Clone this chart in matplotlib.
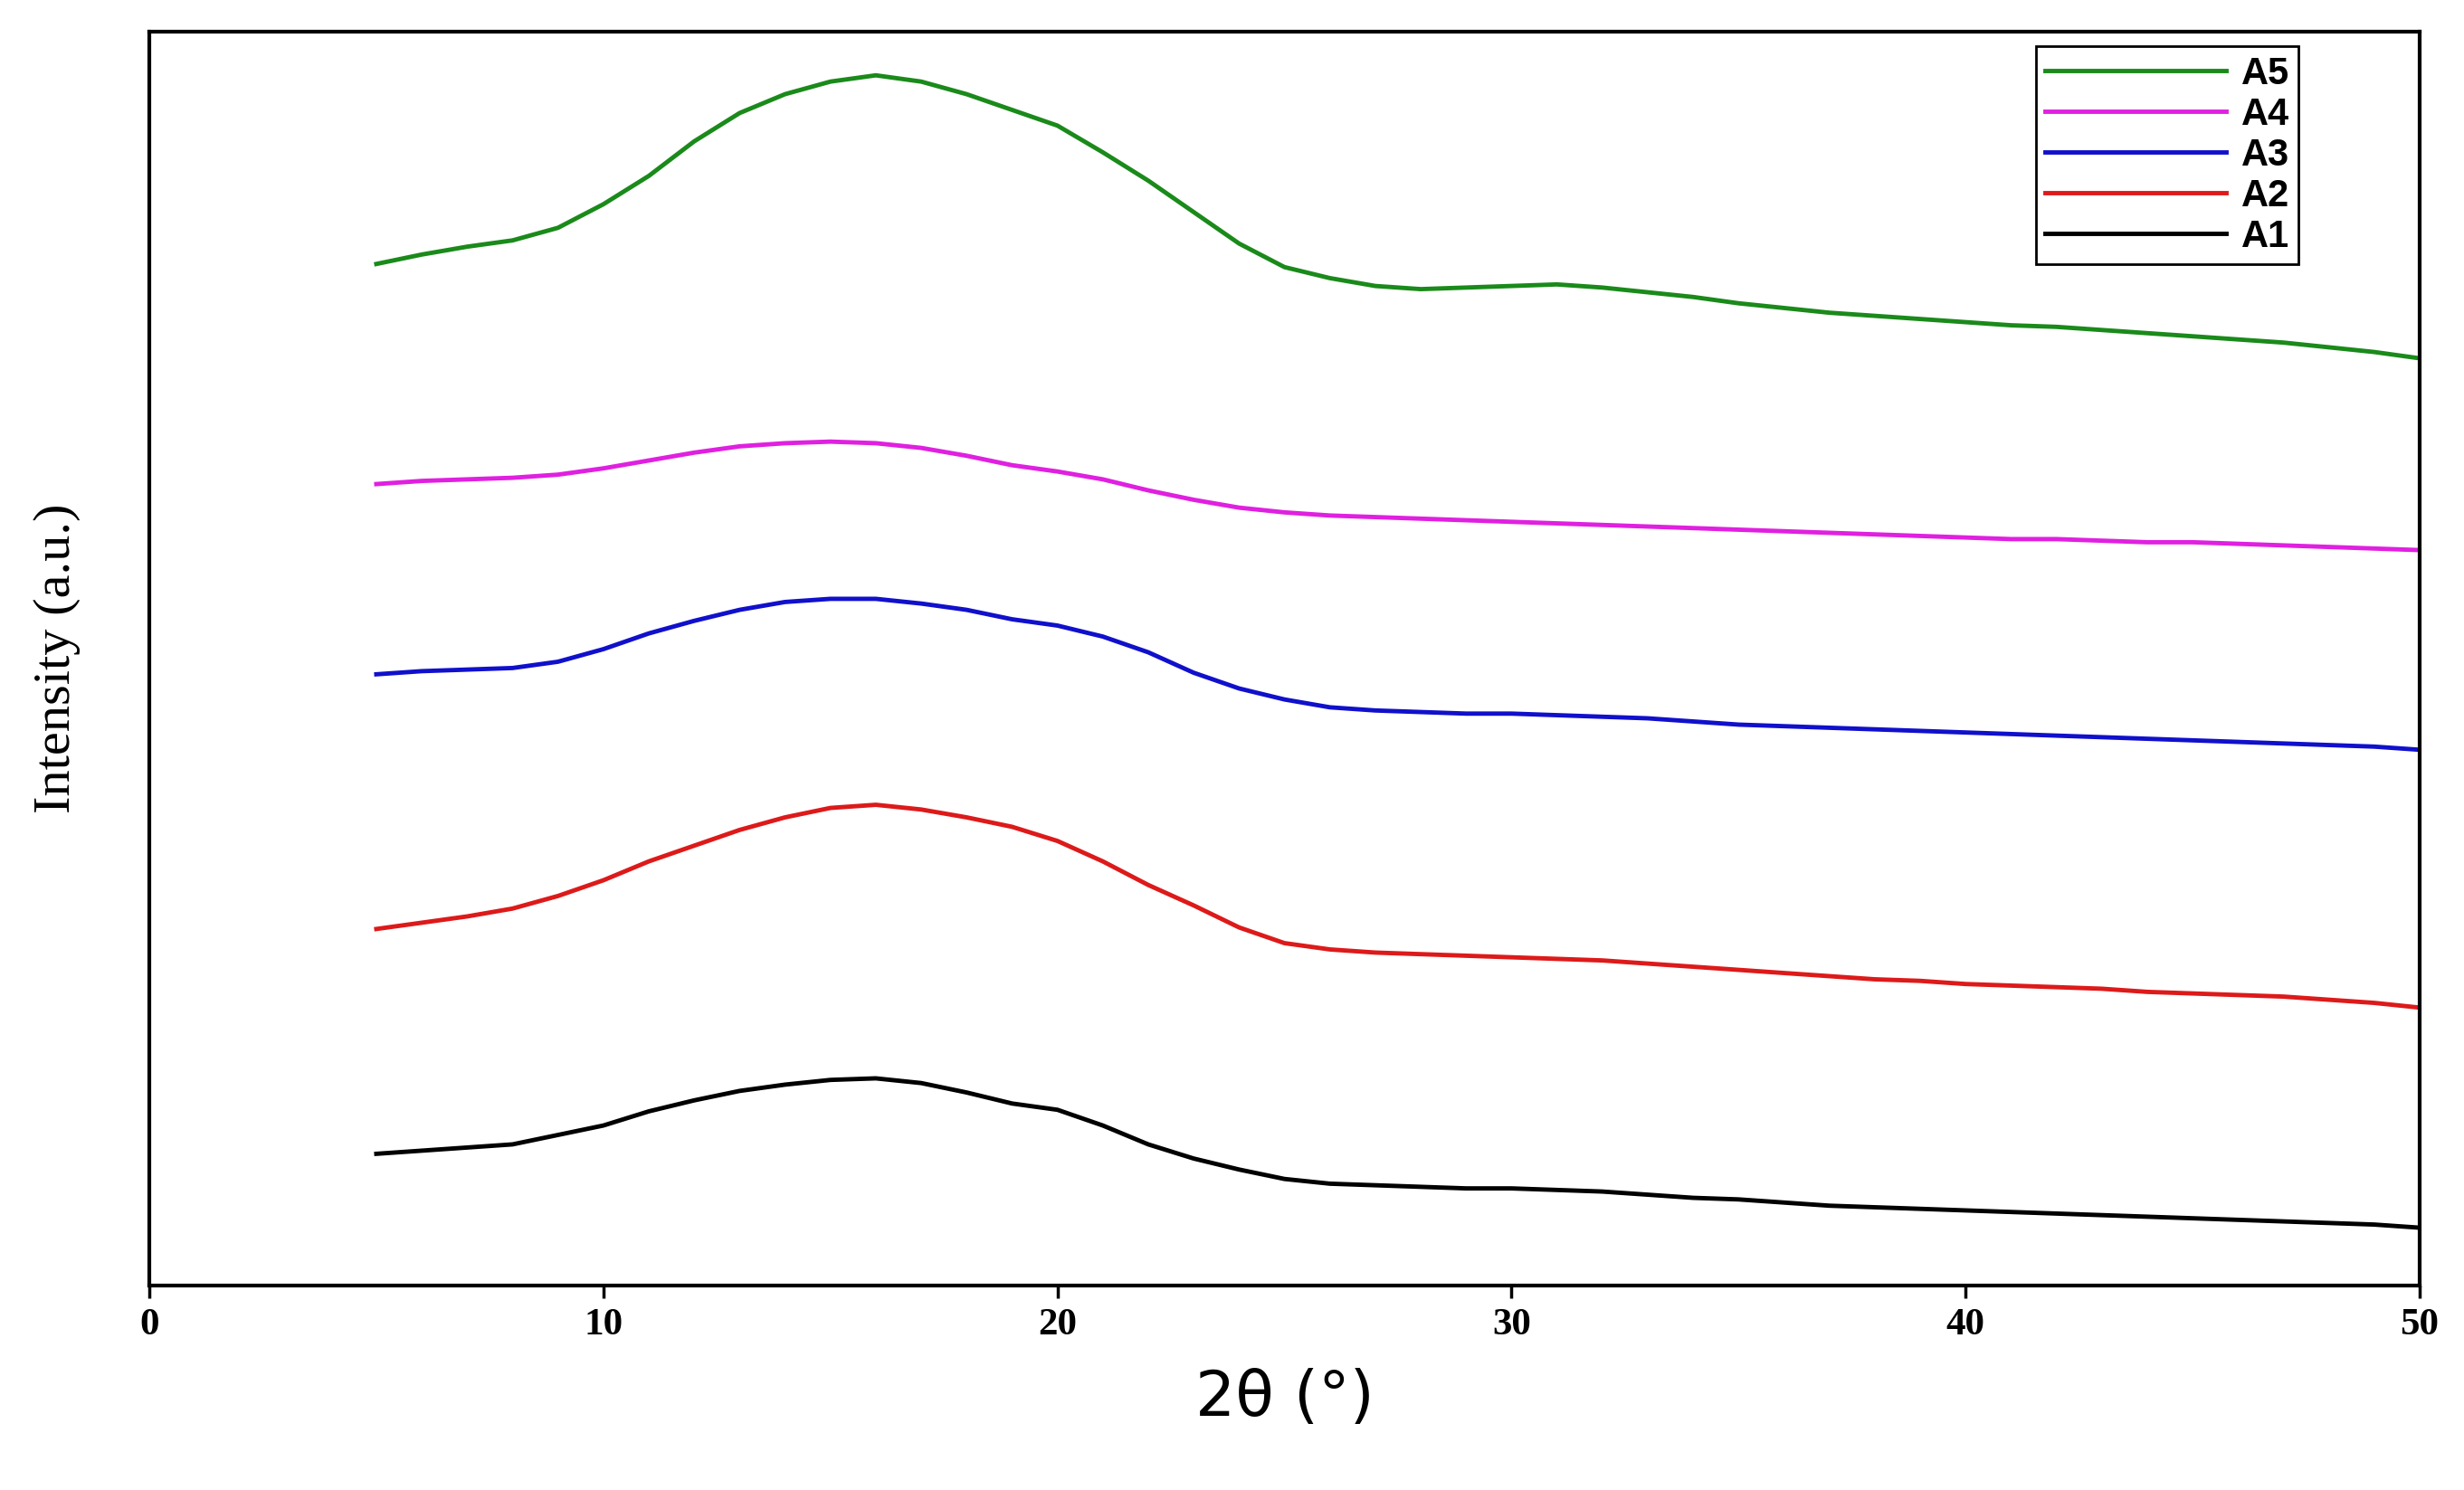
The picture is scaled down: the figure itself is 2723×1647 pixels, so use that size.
import matplotlib
matplotlib.use("Agg")
import matplotlib.pyplot as plt

two_theta = list(range(5, 51))
A5 = [168,162,157,153,145,130,112,90,72,60,52,48,52,60,70,80,97,115,135,155,170,177,182,184,183,182,181,183,186,189,193,196,199,201,203,205,207,208,210,212,214,216,218,221,224,228]
A4 = [308,306,305,304,302,298,293,288,284,282,281,282,285,290,296,300,305,312,318,323,326,328,329,330,331,332,333,334,335,336,337,338,339,340,341,342,343,343,344,345,345,346,347,348,349,350]
A3 = [429,427,426,425,421,413,403,395,388,383,381,381,384,388,394,398,405,415,428,438,445,450,452,453,454,454,455,456,457,459,461,462,463,464,465,466,467,468,469,470,471,472,473,474,475,477]
A2 = [591,587,583,578,570,560,548,538,528,520,514,512,515,520,526,535,548,563,576,590,600,604,606,607,608,609,610,611,613,615,617,619,621,623,624,626,627,628,629,631,632,633,634,636,638,641]
A1 = [734,732,730,728,722,716,707,700,694,690,687,686,689,695,702,706,716,728,737,744,750,753,754,755,756,756,757,758,760,762,763,765,767,768,769,770,771,772,773,774,775,776,777,778,779,781]
xticks = [0, 10, 20, 30, 40, 50]

fig = plt.figure(figsize=(27.23, 16.47), dpi=100)
ax = fig.add_axes([0.0606, 0.137, 0.9214, 0.842])
series = [("A5", A5, "#1a8a1a"), ("A4", A4, "#e020e0"), ("A3", A3, "#1010cc"),
          ("A2", A2, "#dd1a1a"), ("A1", A1, "#000000")]
for name, ys, c in series:
    ax.plot(two_theta, ys, color=c, lw=3.5, label=name)
ax.set_xlim(0, 50)
ax.set_ylim(818, 20)
ax.set_yticks([])
ax.set_xticks(xticks)
ax.tick_params(axis='x', length=10, width=2.5, labelsize=31, pad=8)
for lbl in ax.get_xticklabels():
    lbl.set_fontfamily("Liberation Serif"); lbl.set_fontweight("bold")
for s in ax.spines.values():
    s.set_linewidth(3)
ax.set_xlabel("2θ (°)", fontsize=50, family="DejaVu Sans", labelpad=20)
ax.set_ylabel("Intensity (a.u.)", fontsize=42, family="Liberation Serif", labelpad=55)
leg = ax.legend(loc="upper right", bbox_to_anchor=(0.955, 1.003), fancybox=False,
                edgecolor="black", prop={"family": "Liberation Sans", "weight": "bold", "size": 30},
                handlelength=4.8, handletextpad=0.4, labelspacing=0.12, borderpad=0.25,
                framealpha=1)
leg.get_frame().set_linewidth(2)
fig.savefig("out.png", dpi=100)
